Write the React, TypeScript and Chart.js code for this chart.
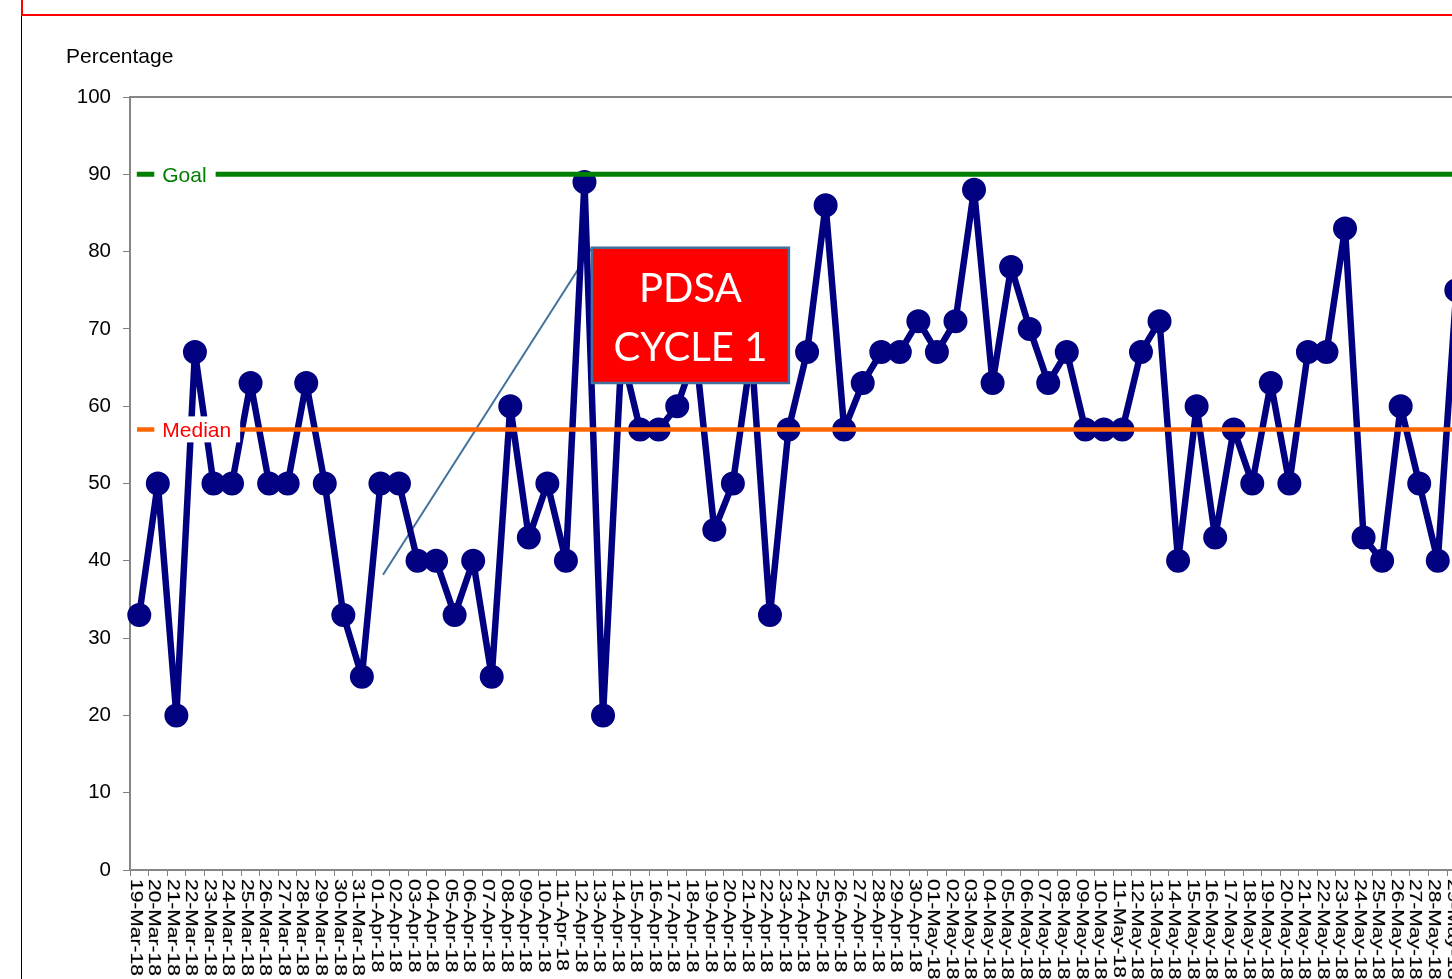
import React, { useEffect, useRef } from 'react';
import { Chart, registerables } from 'chart.js';

Chart.register(...registerables);

const categories: string[] = [
  '19-Mar-18', '20-Mar-18', '21-Mar-18', '22-Mar-18', '23-Mar-18', '24-Mar-18', '25-Mar-18',
  '26-Mar-18', '27-Mar-18', '28-Mar-18', '29-Mar-18', '30-Mar-18', '31-Mar-18',
  '01-Apr-18', '02-Apr-18', '03-Apr-18', '04-Apr-18', '05-Apr-18', '06-Apr-18', '07-Apr-18',
  '08-Apr-18', '09-Apr-18', '10-Apr-18', '11-Apr-18', '12-Apr-18', '13-Apr-18', '14-Apr-18',
  '15-Apr-18', '16-Apr-18', '17-Apr-18', '18-Apr-18', '19-Apr-18', '20-Apr-18', '21-Apr-18',
  '22-Apr-18', '23-Apr-18', '24-Apr-18', '25-Apr-18', '26-Apr-18', '27-Apr-18', '28-Apr-18',
  '29-Apr-18', '30-Apr-18',
  '01-May-18', '02-May-18', '03-May-18', '04-May-18', '05-May-18', '06-May-18', '07-May-18',
  '08-May-18', '09-May-18', '10-May-18', '11-May-18', '12-May-18', '13-May-18', '14-May-18',
  '15-May-18', '16-May-18', '17-May-18', '18-May-18', '19-May-18', '20-May-18', '21-May-18',
  '22-May-18', '23-May-18', '24-May-18', '25-May-18', '26-May-18', '27-May-18', '28-May-18',
  '29-May-18',
];

const percentages: number[] = [
  33, 50, 20, 67, 50, 50, 63, 50, 50, 63, 50, 33, 25,
  50, 50, 40, 40, 33, 40, 25, 60, 43, 50, 40, 89, 20, 67, 57, 57, 60, 67, 44, 50, 67,
  33, 57, 67, 86, 57, 63, 67, 67, 71,
  67, 71, 88, 63, 78, 70, 63, 67, 57, 57, 57, 67, 71, 40, 60, 43, 57, 50, 63, 50, 67,
  67, 83, 43, 40, 60, 50, 40, 75,
];

const goalValue = 90;
const medianValue = 57;
const yTickValues: number[] = [0, 10, 20, 30, 40, 50, 60, 70, 80, 90, 100];
const yAxisTitle = 'Percentage';
const goalLabel = 'Goal';
const medianLabel = 'Median';
const pdsaText: string[] = ['PDSA', 'CYCLE 1'];

// annotation anchors, in data units (category index / percentage)
const pdsaBoxIndex: number[] = [24.4, 35.02];
const pdsaBoxValue: number[] = [63.0, 80.5];
const calloutStart: number[] = [13.14, 38.2];

const FONT = '"Liberation Sans", Arial, sans-serif';

export default function App() {
  const ref = useRef<HTMLCanvasElement | null>(null);

  useEffect(() => {
    const canvas = ref.current;
    if (!canvas) return;

    const overlay = {
      id: 'overlay',
      beforeDatasetsDraw(chart: any) {
        const { ctx, chartArea } = chart;
        const xs = chart.scales.x;
        const ys = chart.scales.y;
        ctx.save();
        ctx.strokeStyle = '#868686';
        ctx.lineWidth = 2;
        ctx.beginPath();
        ctx.moveTo(chartArea.left, chartArea.top);
        ctx.lineTo(chartArea.right, chartArea.top);
        ctx.stroke();
        ctx.strokeStyle = '#41719C';
        ctx.lineWidth = 2;
        ctx.beginPath();
        ctx.moveTo(xs.getPixelForValue(calloutStart[0]), ys.getPixelForValue(calloutStart[1]));
        ctx.lineTo(xs.getPixelForValue(pdsaBoxIndex[0]), ys.getPixelForValue(pdsaBoxValue[1]));
        ctx.stroke();
        ctx.restore();
      },
      afterDatasetsDraw(chart: any) {
        const { ctx } = chart;
        const xs = chart.scales.x;
        const ys = chart.scales.y;
        ctx.save();
        const x0 = xs.getPixelForValue(0);
        const drawLabel = (text: string, value: number, color: string) => {
          ctx.font = `21px ${FONT}`;
          const w = ctx.measureText(text).width;
          const y = ys.getPixelForValue(value);
          ctx.fillStyle = '#ffffff';
          ctx.fillRect(x0 + 15, y - 13, w + 17, 26);
          ctx.fillStyle = color;
          ctx.textAlign = 'left';
          ctx.textBaseline = 'middle';
          ctx.fillText(text, x0 + 23, y + 2);
        };
        drawLabel(goalLabel, goalValue, '#008000');
        drawLabel(medianLabel, medianValue, '#FF0000');

        const bx1 = xs.getPixelForValue(pdsaBoxIndex[0]);
        const bx2 = xs.getPixelForValue(pdsaBoxIndex[1]);
        const by1 = ys.getPixelForValue(pdsaBoxValue[1]);
        const by2 = ys.getPixelForValue(pdsaBoxValue[0]);
        ctx.fillStyle = '#FF0000';
        ctx.fillRect(bx1, by1, bx2 - bx1, by2 - by1);
        ctx.strokeStyle = '#41719C';
        ctx.lineWidth = 2.5;
        ctx.strokeRect(bx1, by1, bx2 - bx1, by2 - by1);
        ctx.fillStyle = '#ffffff';
        ctx.font = `40px Lato, "Open Sans", sans-serif`;
        ctx.textAlign = 'center';
        ctx.textBaseline = 'middle';
        const cx = (bx1 + bx2) / 2;
        const cy = (by1 + by2) / 2;
        ctx.fillText(pdsaText[0], cx, cy - 26);
        ctx.fillText(pdsaText[1], cx, cy + 33);
        ctx.restore();
      },
      afterDraw(chart: any) {
        const { ctx, chartArea } = chart;
        const xs = chart.scales.x;
        ctx.save();
        ctx.fillStyle = '#000000';
        ctx.font = `21px ${FONT}`;
        ctx.textAlign = 'left';
        ctx.textBaseline = 'alphabetic';
        ctx.fillText(yAxisTitle, 66, chartArea.top - 34);
        const half = (xs.getPixelForValue(1) - xs.getPixelForValue(0)) / 2;
        categories.forEach((lab, i) => {
          const cx = xs.getPixelForValue(i);
          ctx.save();
          ctx.translate(cx - half + 0.5, chartArea.bottom + 9);
          ctx.rotate(Math.PI / 2);
          ctx.scale(1, 0.76);
          ctx.fillStyle = '#000000';
          ctx.strokeStyle = 'rgba(0,0,0,0.35)';
          ctx.lineWidth = 0.6;
          ctx.font = `21px ${FONT}`;
          ctx.textAlign = 'left';
          ctx.textBaseline = 'alphabetic';
          ctx.fillText(lab, 0, 0);
          ctx.strokeText(lab, 0, 0);
          ctx.restore();
        });
        ctx.restore();
      },
    };

    const chart = new Chart(canvas, {
      type: 'line',
      data: {
        labels: categories,
        datasets: [
          {
            label: 'Goal',
            data: categories.map(() => goalValue),
            borderColor: '#008000',
            borderWidth: 5,
            borderCapStyle: 'square',
            pointRadius: 0,
            order: 1,
          },
          {
            label: 'Median',
            data: categories.map(() => medianValue),
            borderColor: '#FF6600',
            borderWidth: 4.5,
            borderCapStyle: 'square',
            pointRadius: 0,
            order: 1,
          },
          {
            label: 'Percentage',
            data: percentages,
            borderColor: '#000080',
            backgroundColor: '#000080',
            borderWidth: 6.5,
            borderJoinStyle: 'round',
            borderCapStyle: 'round',
            pointRadius: 11,
            pointBorderWidth: 2,
            pointBorderColor: '#000080',
            pointBackgroundColor: '#000080',
            tension: 0,
            order: 2,
          },
        ],
      },
      options: {
        animation: false,
        responsive: false,
        devicePixelRatio: 1,
        events: [],
        layout: { padding: { left: 0, right: 34.4, top: 97, bottom: 0 } },
        plugins: { legend: { display: false }, tooltip: { enabled: false } },
        scales: {
          x: {
            type: 'category',
            offset: true,
            grid: { offset: true, drawOnChartArea: false, drawTicks: true, tickLength: 6, color: '#808080', lineWidth: 1 },
            border: { color: '#868686', width: 2 },
            ticks: { display: false, autoSkip: false },
            afterFit: (s: any) => { s.height = 109; },
          },
          y: {
            min: 0,
            max: 100,
            afterBuildTicks: (s: any) => { s.ticks = yTickValues.map((v) => ({ value: v })); },
            grid: { drawOnChartArea: false, drawTicks: true, tickLength: 7, color: '#808080', lineWidth: 1 },
            border: { color: '#868686', width: 2 },
            ticks: { color: '#000000', font: { family: FONT, size: 20.5 }, padding: 12 },
            afterFit: (s: any) => { s.width = 130; },
          },
        },
      },
      plugins: [overlay],
    } as any);

    return () => chart.destroy();
  }, []);

  return (
    <div style={{ position: 'fixed', left: 0, top: 0, width: '100vw', height: '100vh', overflow: 'hidden', background: '#ffffff' }}>
      <canvas ref={ref} width={1500} height={979} style={{ position: 'absolute', left: 0, top: 0, width: 1500, height: 979 }} />
      <div style={{ position: 'absolute', left: 21, top: -5, width: 3000, height: 17, border: '2px solid #FF0000' }} />
      <div style={{ position: 'absolute', left: 21, top: 16, width: 1, height: 1000, background: '#000000' }} />
    </div>
  );
}
